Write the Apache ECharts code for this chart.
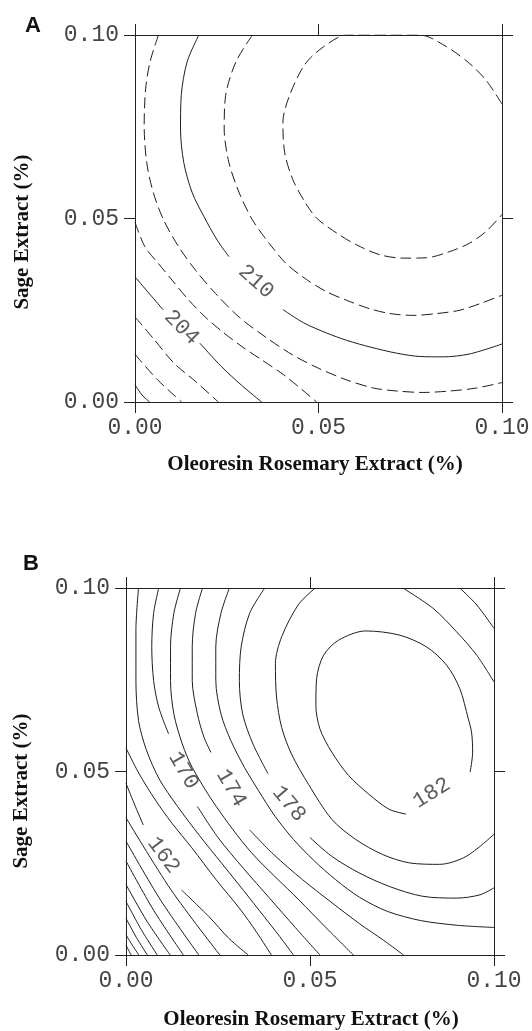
<!DOCTYPE html>
<html>
<head>
<meta charset="utf-8">
<script src="https://cdn.jsdelivr.net/npm/echarts@6/dist/echarts.min.js"></script>
<style>
  html, body { margin: 0; padding: 0; background: #fff; }
  #chart { width: 532px; height: 1031px; }
</style>
</head>
<body>
<div id="chart"></div>
<script>
// axis ticks, both panels (0 - 0.10 %)
var tickLabels = ['0.00', '0.05', '0.10'];

// ---- panel A contours, [rosemary %, sage %] ----
var aL198 = [[0, 0.0047], [0.0019, 0.0019], [0.004, 0]];
var aL200 = [[0, 0.013], [0.0061, 0.0061], [0.0127, 0]];
var aL202 = [[0, 0.0232], [0.005, 0.0173], [0.0106, 0.0106], [0.0165, 0.0056], [0.0227, 0]];
var aL204a = [[0, 0.0341], [0.004, 0.0294], [0.0077, 0.0251]];
var aL204b = [[0.0177, 0.016], [0.0235, 0.0097], [0.029, 0.0046], [0.0345, 0]];
var aL206 = [[0, 0.049], [0.0027, 0.0423], [0.0064, 0.0377], [0.0101, 0.0332], [0.0147, 0.0277],
  [0.0192, 0.0231], [0.024, 0.019], [0.029, 0.0152], [0.0345, 0.0115], [0.0404, 0.0075],
  [0.045, 0.0038], [0.0495, 0]];
var aL208 = [[0.0064, 0.1], [0.0041, 0.0927], [0.0029, 0.0853], [0.0025, 0.0753], [0.0032, 0.0652],
  [0.005, 0.057], [0.0078, 0.0496], [0.0119, 0.0423], [0.0165, 0.0359], [0.022, 0.0295],
  [0.0284, 0.0231], [0.0357, 0.0176], [0.043, 0.0128], [0.05, 0.0092], [0.0577, 0.006],
  [0.065, 0.0038], [0.0713, 0.003], [0.0785, 0.0026], [0.0858, 0.003], [0.093, 0.0038], [0.1, 0.0053]];
var aL210a = [[0.0174, 0.1], [0.0142, 0.0927], [0.0126, 0.0835], [0.0124, 0.0744], [0.0133, 0.0652],
  [0.0156, 0.057], [0.0188, 0.0505], [0.0224, 0.0441], [0.0256, 0.0396]];
var aL210b = [[0.0403, 0.0252], [0.0459, 0.0216], [0.0522, 0.0188], [0.0577, 0.0168], [0.064, 0.015],
  [0.0713, 0.0133], [0.0776, 0.0124], [0.084, 0.0123], [0.0912, 0.0131], [0.1, 0.0158]];
var aL212 = [[0.032, 0.1], [0.0275, 0.0927], [0.0247, 0.0835], [0.0243, 0.0744], [0.0256, 0.0652],
  [0.0284, 0.057], [0.032, 0.0496], [0.0366, 0.0432], [0.0412, 0.0377], [0.0467, 0.0334],
  [0.0523, 0.03], [0.0577, 0.0277], [0.064, 0.0254], [0.0695, 0.0241], [0.0758, 0.0236],
  [0.0822, 0.0241], [0.0885, 0.025], [0.094, 0.0268], [0.1, 0.0291]];
var aL214 = [[0.1, 0.0812], [0.0957, 0.0876], [0.0912, 0.0922], [0.0849, 0.0968], [0.0776, 0.1],
  [0.0577, 0.1], [0.0514, 0.0968], [0.0463, 0.092], [0.0421, 0.0835], [0.0403, 0.0762],
  [0.0408, 0.0679], [0.043, 0.0606], [0.0463, 0.0545], [0.0495, 0.0501], [0.055, 0.046],
  [0.0604, 0.0428], [0.0668, 0.0401], [0.0731, 0.0392], [0.0794, 0.0393], [0.0858, 0.041],
  [0.0912, 0.0433], [0.0957, 0.0465], [0.1, 0.0511]];
var aLabelText = ['204', '210'];
var aLabelAt = [[0.0127, 0.0203], [0.033, 0.0328]];

// ---- panel B contours ----
var bH1 = [[0, 0.0374], [0.0122, 0.0178], [0.0255, 0]];
var bH2 = [[0, 0.031], [0.0095, 0.0148], [0.0198, 0]];
var bH3 = [[0, 0.0256], [0.0075, 0.0122], [0.0156, 0]];
var bH4 = [[0, 0.0192], [0.0057, 0.0092], [0.012, 0]];
var bH5 = [[0, 0.0146], [0.0041, 0.007], [0.0085, 0]];
var bH6 = [[0, 0.01], [0.0028, 0.0048], [0.0058, 0]];
var bH7 = [[0, 0.0055], [0.0017, 0.0027], [0.0035, 0]];
var bH8 = [[0, 0.0027], [0.0007, 0.0013], [0.0014, 0]];
var b162a = [[0, 0.0468], [0.0022, 0.0413], [0.0047, 0.0354]];
var b162b = [[0.0151, 0.0177], [0.0225, 0.0105], [0.028, 0.0045], [0.0332, 0]];
var b166 = [[0, 0.0564], [0.0035, 0.0495], [0.008, 0.0422], [0.0125, 0.0359], [0.0179, 0.0292],
  [0.0245, 0.0205], [0.031, 0.0125], [0.0355, 0.0062], [0.0395, 0]];
var b168 = [[0.0034, 0.1], [0.0027, 0.0886], [0.0027, 0.0748], [0.0034, 0.0639], [0.0055, 0.056],
  [0.009, 0.048], [0.014, 0.0405], [0.02, 0.0325], [0.026, 0.025], [0.032, 0.0175],
  [0.0375, 0.0105], [0.0418, 0.005], [0.0455, 0]];
var b170a = [[0.0089, 0.1], [0.0075, 0.0931], [0.007, 0.084], [0.0075, 0.0748], [0.0089, 0.0675], [0.0116, 0.0602]];
var b170b = [[0.0194, 0.0405], [0.025, 0.032], [0.032, 0.0235], [0.039, 0.0155], [0.046, 0.0075], [0.0527, 0]];
var b172 = [[0.0148, 0.1], [0.013, 0.0931], [0.0121, 0.084], [0.0121, 0.0748], [0.013, 0.0657],
  [0.0153, 0.0575], [0.018, 0.0511], [0.0245, 0.0405], [0.034, 0.028], [0.047, 0.015],
  [0.054, 0.0078], [0.0618, 0]];
var b174a = [[0.0208, 0.1], [0.0189, 0.0931], [0.018, 0.084], [0.018, 0.0748], [0.0194, 0.0657],
  [0.0212, 0.0593], [0.0231, 0.0552]];
var b174b = [[0.0336, 0.0341], [0.04, 0.0275], [0.048, 0.0205], [0.056, 0.0142], [0.0635, 0.0085],
  [0.07, 0.004], [0.0754, 0]];
var b176 = [[0.0281, 0.1], [0.0258, 0.0931], [0.0244, 0.084], [0.0244, 0.0748], [0.0258, 0.0657],
  [0.0285, 0.0584], [0.0322, 0.0511], [0.036, 0.0448], [0.0405, 0.0378], [0.0455, 0.0315],
  [0.051, 0.0258], [0.057, 0.0205], [0.0635, 0.0157], [0.071, 0.0119], [0.08, 0.0094],
  [0.09, 0.0081], [0.1, 0.0075]];
var b178a = [[0.0377, 0.1], [0.0336, 0.0931], [0.0313, 0.084], [0.0308, 0.0748], [0.0317, 0.0657],
  [0.0345, 0.0575], [0.0386, 0.0494]];
var b178b = [[0.05, 0.032], [0.0559, 0.0269], [0.0633, 0.0224], [0.0715, 0.0187], [0.0806, 0.016],
  [0.0898, 0.0155], [0.0962, 0.0164], [0.1, 0.0183]];
var b178c = [[0.0907, 0.1], [0.0953, 0.0954], [0.1, 0.089]];
var b180 = [[0.0514, 0.1], [0.0468, 0.0954], [0.0423, 0.0867], [0.0406, 0.0794], [0.0409, 0.0703],
  [0.0423, 0.062], [0.045, 0.0547], [0.0496, 0.0465], [0.0559, 0.037], [0.0624, 0.0315],
  [0.0697, 0.0274], [0.077, 0.0251], [0.0852, 0.0247], [0.0925, 0.0269], [0.1, 0.0329]];
var b180c = [[0.0752, 0.1], [0.0834, 0.0945], [0.0898, 0.0881], [0.0953, 0.0817], [0.1, 0.0744]];
var b182 = [[0.0761, 0.0384], [0.0715, 0.0397], [0.066, 0.0438], [0.0605, 0.0489], [0.0559, 0.0553],
  [0.0527, 0.0616], [0.0516, 0.068], [0.0518, 0.0753], [0.0537, 0.0817], [0.0578, 0.0858],
  [0.0651, 0.0883], [0.0742, 0.0872], [0.0816, 0.084], [0.0871, 0.079], [0.0907, 0.0726],
  [0.093, 0.0644], [0.0939, 0.0607], [0.0942, 0.0553], [0.0935, 0.0498]];
var bLabelText = ['162', '170', '174', '178', '182'];
var bLabelAt = [[0.0102, 0.0272], [0.0156, 0.0503], [0.0286, 0.0455], [0.0443, 0.0412], [0.0831, 0.0441]];

var chart = echarts.init(document.getElementById('chart'), null, { renderer: 'canvas' });

var tickFont = 'Liberation Mono';
var lineColor = '#1e1e1e';

function fmt(v) {
  return tickLabels[Math.round(v / 0.05)];
}

function xAx(grid, pos) {
  return {
    gridIndex: grid, type: 'value', min: 0, max: 0.1, interval: 0.05, position: pos,
    axisLine: { show: true, onZero: false, lineStyle: { color: '#222', width: 1 } },
    axisTick: { show: true, inside: false, length: 11, lineStyle: { color: '#222', width: 1 } },
    axisLabel: { show: pos === 'bottom', margin: 14, fontFamily: tickFont, fontSize: 23, color: '#444', formatter: fmt },
    splitLine: { show: false }
  };
}

function yAx(grid, pos) {
  return {
    gridIndex: grid, type: 'value', min: 0, max: 0.1, interval: 0.05, position: pos,
    axisLine: { show: true, onZero: false, lineStyle: { color: '#222', width: 1 } },
    axisTick: { show: true, inside: false, length: 11, lineStyle: { color: '#222', width: 1 } },
    axisLabel: { show: pos === 'left', margin: 16, fontFamily: tickFont, fontSize: 23, color: '#444', formatter: fmt },
    splitLine: { show: false }
  };
}

// panel 0 -> axes 0, panel 1 -> axes 2
function contour(data, panel, dashed) {
  return {
    type: 'line', data: data, xAxisIndex: panel * 2, yAxisIndex: panel * 2,
    showSymbol: false, smooth: 0.3, silent: true,
    lineStyle: { color: lineColor, width: 1, type: dashed ? [11, 5] : 'solid' },
    z: 3
  };
}

function labels(texts, at, rot, panel) {
  return {
    type: 'scatter', xAxisIndex: panel * 2, yAxisIndex: panel * 2,
    symbolSize: 1, itemStyle: { color: 'rgba(0,0,0,0)' }, silent: true, z: 5,
    data: texts.map(function (t, i) {
      return { value: at[i], label: { formatter: t, rotate: rot[i] } };
    }),
    label: { show: true, position: 'inside', fontFamily: tickFont, fontSize: 22, color: '#333' }
  };
}

var series = [
  contour(aL198, 0, false), contour(aL200, 0, true), contour(aL202, 0, true),
  contour(aL204a, 0, false), contour(aL204b, 0, false),
  contour(aL206, 0, true), contour(aL208, 0, true),
  contour(aL210a, 0, false), contour(aL210b, 0, false),
  contour(aL212, 0, true), contour(aL214, 0, true),
  labels(aLabelText, aLabelAt, [-45, -42], 0)
];
[bH1, bH2, bH3, bH4, bH5, bH6, bH7, bH8, b162a, b162b, b166, b168, b170a, b170b, b172,
 b174a, b174b, b176, b178a, b178b, b178c, b180, b180c, b182].forEach(function (d) {
  series.push(contour(d, 1, false));
});
series.push(labels(bLabelText, bLabelAt, [-53, -60, -60, -50, 32], 1));

var titleFont = 'bold 21px "Liberation Serif"';

var option = {
  animation: false,
  backgroundColor: '#fff',
  grid: [
    { left: 135, top: 35, width: 367, height: 367, outerBoundsMode: 'none', containLabel: false },
    { left: 126, top: 588, width: 368, height: 367, outerBoundsMode: 'none', containLabel: false }
  ],
  xAxis: [xAx(0, 'bottom'), xAx(0, 'top'), xAx(1, 'bottom'), xAx(1, 'top')],
  yAxis: [yAx(0, 'left'), yAx(0, 'right'), yAx(1, 'left'), yAx(1, 'right')],
  series: series,
  graphic: [
    { type: 'text', x: 33, y: 26, style: { text: 'A', x: 0, y: 0, align: 'center', verticalAlign: 'middle', font: 'bold 22px "Liberation Sans"', fill: '#111' } },
    { type: 'text', x: 31, y: 564, style: { text: 'B', x: 0, y: 0, align: 'center', verticalAlign: 'middle', font: 'bold 22px "Liberation Sans"', fill: '#111' } },
    { type: 'text', x: 315, y: 465, style: { text: 'Oleoresin Rosemary Extract (%)', x: 0, y: 0, align: 'center', verticalAlign: 'middle', font: titleFont, fill: '#111' } },
    { type: 'text', x: 311, y: 1020, style: { text: 'Oleoresin Rosemary Extract (%)', x: 0, y: 0, align: 'center', verticalAlign: 'middle', font: titleFont, fill: '#111' } },
    { type: 'text', x: 23, y: 232, rotation: Math.PI / 2, style: { text: 'Sage Extract (%)', x: 0, y: 0, align: 'center', verticalAlign: 'middle', font: titleFont, fill: '#111' } },
    { type: 'text', x: 22, y: 791, rotation: Math.PI / 2, style: { text: 'Sage Extract (%)', x: 0, y: 0, align: 'center', verticalAlign: 'middle', font: titleFont, fill: '#111' } }
  ]
};

chart.setOption(option);
</script>
</body>
</html>
